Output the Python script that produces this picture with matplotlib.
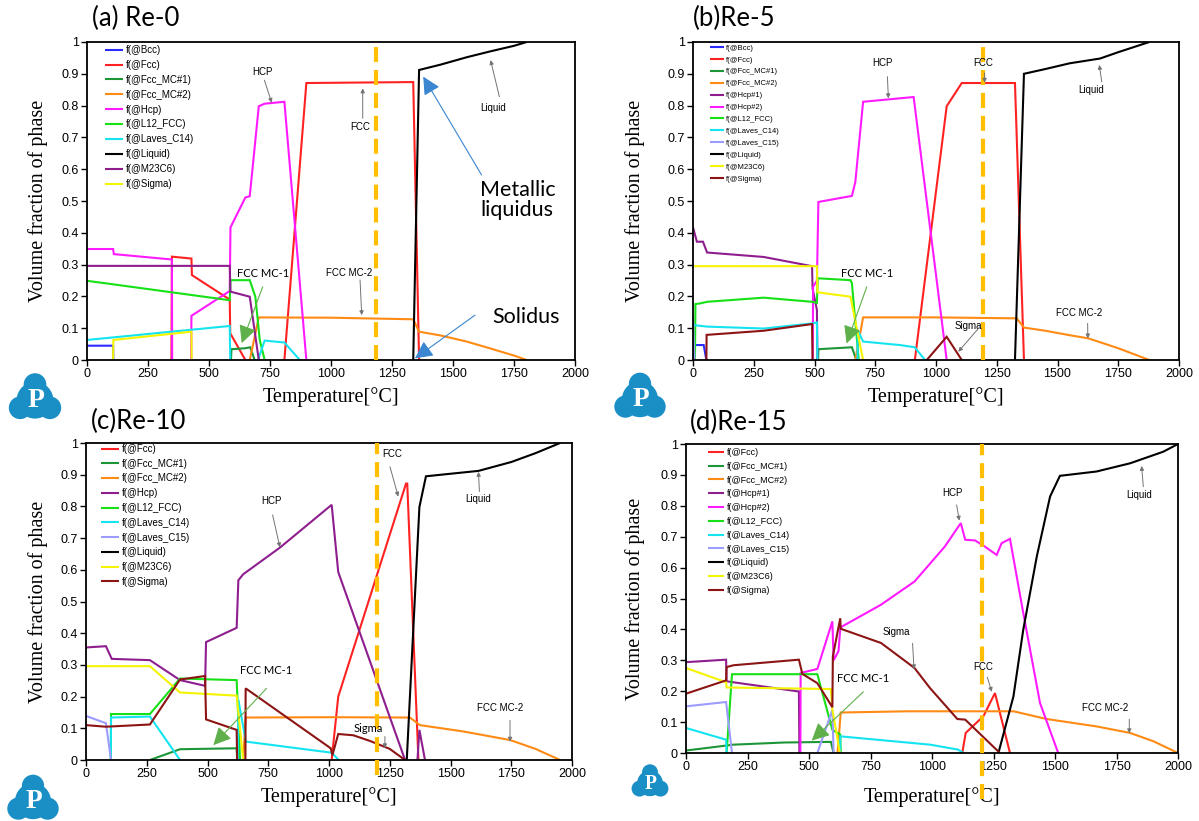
import numpy as np
import matplotlib
matplotlib.use('Agg')
import matplotlib.pyplot as plt
from matplotlib.patches import Circle

plt.rcParams['font.family'] = ['Liberation Sans', 'DejaVu Sans']

W, H = 1199, 821

# ---- phase fractions, (temperature [C], volume fraction) ----
# (a) Re-0
a_bcc = [(0, 0.045), (107, 0.045), (108, 0)]
a_fcc = [(346, 0), (348, 0.325), (428, 0.319), (430, 0.267), (585, 0.19), (587, 0.084), (649, 0),
         (809, 0), (899, 0.871), (1337, 0.874), (1361, 0)]
a_mc1 = [(590, 0), (592, 0.034), (649, 0.037), (669, 0.04), (687, 0)]
a_mc2 = [(667, 0), (704, 0.134), (1000, 0.133), (1337, 0.128), (1361, 0.089), (1450, 0.077),
         (1556, 0.058), (1650, 0.037), (1750, 0.014), (1802, 0)]
a_hcp = [(0, 0.349), (107, 0.349), (110, 0.333), (348, 0.316), (349, 0), (427, 0), (428, 0.139),
         (585, 0.217), (588, 0.417), (649, 0.511), (667, 0.515), (704, 0.798), (728, 0.806),
         (809, 0.812), (899, 0)]
a_l12 = [(0, 0.249), (107, 0.238), (585, 0.188), (588, 0.251), (667, 0.251), (690, 0.199),
         (708, 0.063), (728, 0)]
a_c14 = [(0, 0.063), (585, 0.107), (587, 0), (701, 0), (728, 0.061), (809, 0.055), (872, 0)]
a_liq = [(1337, 0), (1361, 0.912), (1450, 0.929), (1556, 0.952), (1650, 0.97), (1750, 0.988),
         (1802, 1.0)]
a_m23 = [(0, 0.296), (585, 0.296), (588, 0.215), (667, 0.199), (704, 0)]
a_sig = [(107, 0), (108, 0.063), (428, 0.089), (429, 0)]

# (b) Re-5
b_bcc = [(2, 0), (4, 0.047), (44, 0.047), (55, 0)]
b_fcc = [(913, 0), (1044, 0.798), (1106, 0.871), (1325, 0.871), (1362, 0)]
b_mc1 = [(515, 0), (516, 0.034), (654, 0.04), (672, 0)]
b_mc2 = [(668, 0), (700, 0.134), (1000, 0.134), (1332, 0.131), (1362, 0.102), (1450, 0.092),
         (1550, 0.078), (1627, 0.068), (1750, 0.037), (1878, 0)]
b_hcp1 = [(0, 0.417), (16, 0.372), (41, 0.372), (58, 0.338), (291, 0.324), (490, 0.295),
          (492, 0.225), (510, 0.157), (512, 0)]
b_hcp2 = [(493, 0), (494, 0.23), (510, 0.25), (516, 0.497), (654, 0.516), (668, 0.56),
          (700, 0.812), (908, 0.827), (1044, 0)]
b_l12 = [(8, 0), (10, 0.176), (30, 0.178), (58, 0.183), (291, 0.196), (490, 0.183), (510, 0.18),
         (513, 0.257), (648, 0.251), (654, 0.241), (682, 0)]
b_c14 = [(0, 0.110), (58, 0.105), (291, 0.099), (490, 0.115), (510, 0.118), (512, 0), (677, 0),
         (678, 0.094), (700, 0.058), (852, 0.047), (912, 0.04), (955, 0)]
b_c15 = [(0, 0.136), (6, 0)]
b_liq = [(1325, 0), (1362, 0.900), (1450, 0.915), (1550, 0.933), (1675, 0.948), (1750, 0.968),
         (1878, 1.0)]
b_m23 = [(0, 0.295), (510, 0.295), (512, 0.213), (648, 0.199), (700, 0)]
b_sig = [(55, 0), (56, 0.079), (291, 0.092), (490, 0.113), (492, 0), (962, 0), (1044, 0.073),
         (1106, 0)]

# (c) Re-10
c_fcc = [(1011, 0), (1038, 0.2), (1317, 0.872), (1322, 0.872), (1368, 0)]
c_mc1 = [(263, 0), (387, 0.034), (620, 0.037), (622, 0)]
c_mc2 = [(647, 0), (657, 0.134), (1000, 0.135), (1333, 0.134), (1374, 0.11), (1553, 0.09),
         (1745, 0.063), (1850, 0.035), (1951, 0)]
c_hcp = [(0, 0.355), (82, 0.359), (106, 0.319), (263, 0.315), (387, 0.252), (490, 0.234),
         (494, 0.372), (620, 0.417), (627, 0.567), (647, 0.586), (798, 0.67), (1011, 0.805),
         (1038, 0.593), (1313, 0), (1364, 0), (1372, 0.095), (1395, 0)]
c_l12 = [(102, 0), (103, 0.145), (263, 0.145), (387, 0.257), (620, 0.252), (634, 0)]
c_c14 = [(102, 0), (103, 0.134), (263, 0.137), (387, 0), (625, 0), (627, 0.19), (658, 0.058),
         (1011, 0.023), (1040, 0)]
c_c15 = [(0, 0.139), (82, 0.116), (103, 0)]
c_liq = [(1320, 0), (1372, 0.798), (1399, 0.895), (1500, 0.903), (1615, 0.912), (1750, 0.94),
         (1850, 0.968), (1951, 1.0)]
c_m23 = [(0, 0.296), (263, 0.296), (387, 0.213), (620, 0.203), (647, 0)]
c_sig = [(0, 0.110), (82, 0.105), (263, 0.112), (387, 0.254), (490, 0.265), (494, 0.128),
         (620, 0.095), (622, 0), (656, 0), (657, 0.226), (1007, 0.037), (1014, 0.015),
         (1038, 0.082), (1100, 0.078), (1169, 0.06), (1250, 0.035), (1313, 0)]

# (d) Re-15
d_fcc = [(1123, 0), (1137, 0.065), (1209, 0.119), (1256, 0.194), (1317, 0)]
d_mc1 = [(0, 0.008), (193, 0.027), (400, 0.034), (589, 0.036), (600, 0)]
d_mc2 = [(616, 0), (629, 0.131), (900, 0.135), (1331, 0.135), (1466, 0.11), (1669, 0.086),
         (1805, 0.065), (1900, 0.038), (2000, 0)]
d_hcp1 = [(0, 0.294), (163, 0.302), (165, 0.232), (459, 0.199), (461, 0)]
d_hcp2 = [(465, 0), (466, 0.259), (534, 0.272), (595, 0.426), (600, 0.3), (620, 0.33),
          (627, 0.402), (629, 0.407), (793, 0.48), (929, 0.555), (1052, 0.668), (1117, 0.744),
          (1135, 0.69), (1175, 0.688), (1215, 0.668), (1263, 0.641), (1283, 0.679),
          (1317, 0.693), (1371, 0.453), (1439, 0.162), (1513, 0)]
d_l12 = [(165, 0), (187, 0.255), (534, 0.255), (595, 0.075), (627, 0.06), (629, 0)]
d_c14 = [(0, 0.081), (163, 0.043), (165, 0), (626, 0), (627, 0.054), (992, 0.027),
         (1106, 0.011), (1127, 0)]
d_c15 = [(0, 0.151), (163, 0.165), (187, 0), (534, 0), (595, 0.14), (600, 0)]
d_liq = [(1270, 0), (1331, 0.183), (1371, 0.399), (1426, 0.636), (1480, 0.83), (1520, 0.897),
         (1669, 0.911), (1805, 0.9375), (1940, 0.975), (2000, 1.0)]
d_m23 = [(0, 0.275), (163, 0.229), (165, 0.212), (589, 0.207), (595, 0.14), (615, 0.05),
         (625, 0)]
d_sig = [(0, 0.192), (163, 0.235), (165, 0.278), (193, 0.284), (459, 0.302), (473, 0.256),
         (534, 0.226), (595, 0.148), (597, 0.313), (627, 0.436), (629, 0.402), (793, 0.356),
         (929, 0.275), (992, 0.21), (1103, 0.11), (1135, 0.108), (1276, 0)]

x_ticks = [0, 250, 500, 750, 1000, 1250, 1500, 1750, 2000]
y_ticks = [0, 0.1, 0.2, 0.3, 0.4, 0.5, 0.6, 0.7, 0.8, 0.9, 1]
y_ticklabels = ['0', '0.1', '0.2', '0.3', '0.4', '0.5', '0.6', '0.7', '0.8', '0.9', '1']

BLUE = '#2a2aff'
RED = '#ff2222'
DKGREEN = '#1c9636'
ORANGE = '#ff8a14'
PURPLE = '#8e1e8e'
MAGENTA = '#ff1aff'
GREEN = '#16e016'
CYAN = '#14e4f0'
LAVENDER = '#9c9cff'
BLACK = '#000000'
YELLOW = '#f4f400'
DKRED = '#8c1414'
DASH = '#ffbf00'

panel_a = [('f(@Bcc)', a_bcc, BLUE), ('f(@Fcc)', a_fcc, RED), ('f(@Fcc_MC#1)', a_mc1, DKGREEN),
           ('f(@Fcc_MC#2)', a_mc2, ORANGE), ('f(@Hcp)', a_hcp, MAGENTA),
           ('f(@L12_FCC)', a_l12, GREEN), ('f(@Laves_C14)', a_c14, CYAN),
           ('f(@Liquid)', a_liq, BLACK), ('f(@M23C6)', a_m23, PURPLE), ('f(@Sigma)', a_sig, YELLOW)]
panel_b = [('f(@Bcc)', b_bcc, BLUE), ('f(@Fcc)', b_fcc, RED), ('f(@Fcc_MC#1)', b_mc1, DKGREEN),
           ('f(@Fcc_MC#2)', b_mc2, ORANGE), ('f(@Hcp#1)', b_hcp1, PURPLE),
           ('f(@Hcp#2)', b_hcp2, MAGENTA), ('f(@L12_FCC)', b_l12, GREEN),
           ('f(@Laves_C14)', b_c14, CYAN), ('f(@Laves_C15)', b_c15, LAVENDER),
           ('f(@Liquid)', b_liq, BLACK), ('f(@M23C6)', b_m23, YELLOW), ('f(@Sigma)', b_sig, DKRED)]
panel_c = [('f(@Fcc)', c_fcc, RED), ('f(@Fcc_MC#1)', c_mc1, DKGREEN),
           ('f(@Fcc_MC#2)', c_mc2, ORANGE), ('f(@Hcp)', c_hcp, PURPLE),
           ('f(@L12_FCC)', c_l12, GREEN), ('f(@Laves_C14)', c_c14, CYAN),
           ('f(@Laves_C15)', c_c15, LAVENDER), ('f(@Liquid)', c_liq, BLACK),
           ('f(@M23C6)', c_m23, YELLOW), ('f(@Sigma)', c_sig, DKRED)]
panel_d = [('f(@Fcc)', d_fcc, RED), ('f(@Fcc_MC#1)', d_mc1, DKGREEN),
           ('f(@Fcc_MC#2)', d_mc2, ORANGE), ('f(@Hcp#1)', d_hcp1, PURPLE),
           ('f(@Hcp#2)', d_hcp2, MAGENTA), ('f(@L12_FCC)', d_l12, GREEN),
           ('f(@Laves_C14)', d_c14, CYAN), ('f(@Laves_C15)', d_c15, LAVENDER),
           ('f(@Liquid)', d_liq, BLACK), ('f(@M23C6)', d_m23, YELLOW), ('f(@Sigma)', d_sig, DKRED)]


def px_axes(fig, x0, y0, x1, y1):
    return fig.add_axes([x0 / W, 1 - y1 / H, (x1 - x0) / W, (y1 - y0) / H])


def draw_curve(ax, pts, color, label):
    # break the line wherever it would run along the zero baseline
    xs, ys = [], []
    for i, (t, v) in enumerate(pts):
        if i > 0 and v == 0 and pts[i - 1][1] == 0:
            xs.append(np.nan)
            ys.append(np.nan)
        xs.append(t)
        ys.append(v)
    ax.plot(xs, ys, color=color, lw=1.5, label=label, solid_joinstyle='miter',
            solid_capstyle='butt')


def setup(ax, curves, leg_anchor, leg_fs, leg_space, dash_t, dash_low, xlab_y, ylab_x):
    for label, pts, color in curves:
        draw_curve(ax, pts, color, label)
    ax.set_xlim(0, 2000)
    ax.set_ylim(0, 1)
    ax.set_xticks(x_ticks)
    ax.set_yticks(y_ticks)
    ax.set_yticklabels(y_ticklabels)
    ax.tick_params(direction='out', length=4, width=1, labelsize=9, pad=2)
    for s in ax.spines.values():
        s.set_linewidth(1.3)
    ax.plot([dash_t, dash_t], [dash_low, 1], color=DASH, lw=3, dashes=(3.6, 1.9),
            clip_on=False, zorder=3)
    ax.set_xlabel('Temperature[°C]', family='Liberation Serif', fontsize=14.5)
    ax.set_ylabel('Volume fraction of phase', family='Liberation Serif', fontsize=14.5)
    ax.xaxis.set_label_coords(0.5, xlab_y)
    ax.yaxis.set_label_coords(ylab_x, 0.5)
    ax.legend(loc='upper left', bbox_to_anchor=leg_anchor, frameon=False, fontsize=leg_fs,
              handlelength=1.8, handletextpad=0.3, labelspacing=leg_space, borderpad=0,
              borderaxespad=0)


def note(ax, text, pos, tail, head, fs=7, color='0.45', family='Liberation Sans'):
    ax.text(pos[0], pos[1], text, fontsize=fs, ha='center', va='center', family=family)
    ax.annotate('', xy=head, xytext=tail,
                arrowprops=dict(arrowstyle='-|>', color=color, lw=0.7, mutation_scale=6,
                                shrinkA=0, shrinkB=0))


def mc1_note(ax, pos, tail, head):
    ax.text(pos[0], pos[1], 'FCC MC-1', fontsize=8, ha='center', va='center', family='Lato')
    ax.annotate('', xy=head, xytext=tail,
                arrowprops=dict(arrowstyle='-|>,head_length=0.9,head_width=0.45',
                                color='#5fb04a', lw=0.8, mutation_scale=12,
                                shrinkA=0, shrinkB=0))


def logo(fig, cx, cy, w):
    lax = fig.add_axes([(cx - w / 2) / W, 1 - (cy + w / 2) / H, w / W, w / H])
    lax.set_xlim(-1, 1)
    lax.set_ylim(-1, 1)
    lax.axis('off')
    col = '#1a8fc6'
    for x, y, r in [(0, 0.46, 0.42), (-0.55, -0.4, 0.42), (0.55, -0.4, 0.42),
                    (0, -0.12, 0.68)]:
        lax.add_patch(Circle((x, y), r, color=col, lw=0))
    lax.text(0.03, -0.14, 'P', color='white', ha='center', va='center',
             family='Liberation Serif', weight='bold', fontsize=20 * w / 54)


fig = plt.figure(figsize=(W / 100, H / 100), dpi=100)

ax_a = px_axes(fig, 87, 42, 575, 360)
ax_b = px_axes(fig, 693, 42, 1179, 360)
ax_c = px_axes(fig, 86, 443, 572, 760)
ax_d = px_axes(fig, 686, 444, 1178, 753)

setup(ax_a, panel_a, (0.037, 0.99), 7, 0.5, 1186, 0, -0.085, -0.080)
setup(ax_b, panel_b, (0.035, 0.993), 5.5, 0.6, 1192, 0, -0.085, -0.099)
setup(ax_c, panel_c, (0.031, 0.997), 7, 0.49, 1196, -0.047, -0.085, -0.079)
setup(ax_d, panel_d, (0.045, 0.987), 6.5, 0.53, 1205, -0.15, -0.11, -0.083)

# (a) annotations
note(ax_a, 'HCP', (718, 0.906), (727, 0.88), (757, 0.809))
note(ax_a, 'FCC', (1119, 0.734), (1130, 0.76), (1130, 0.854))
note(ax_a, 'FCC MC-2', (1074, 0.273), (1119, 0.252), (1126, 0.141))
note(ax_a, 'Liquid', (1664, 0.792), (1690, 0.828), (1654, 0.943))
mc1_note(ax_a, (720, 0.273), (720, 0.23), (634, 0.053))
ax_a.text(1611, 0.503, 'Metallic\nliquidus', fontsize=15.5, ha='left', va='center',
          family='Lato', linespacing=1.05)
ax_a.text(1659, 0.134, 'Solidus', fontsize=15.5, ha='left', va='center', family='Lato')
for tail, head in [((1617, 0.582), (1378, 0.891)), ((1590, 0.141), (1344, 0.005))]:
    ax_a.annotate('', xy=head, xytext=tail,
                  arrowprops=dict(arrowstyle='-|>,head_length=0.9,head_width=0.45',
                                  color='#3a86d0', lw=0.8, mutation_scale=12,
                                  shrinkA=0, shrinkB=0))

# (b) annotations
note(ax_b, 'HCP', (781, 0.933), (800, 0.891), (804, 0.823))
note(ax_b, 'FCC', (1195, 0.933), (1200, 0.903), (1200, 0.872))
note(ax_b, 'Liquid', (1637, 0.849), (1682, 0.875), (1672, 0.928))
note(ax_b, 'FCC MC-2', (1590, 0.147), (1624, 0.115), (1625, 0.068))
note(ax_b, 'Sigma', (1133, 0.108), (1181, 0.105), (1092, 0.026))
mc1_note(ax_b, (715, 0.272), (715, 0.23), (632, 0.052))

# (c) annotations
note(ax_c, 'HCP', (764, 0.818), (768, 0.773), (798, 0.671))
note(ax_c, 'FCC', (1262, 0.965), (1251, 0.925), (1285, 0.831))
note(ax_c, 'Liquid', (1612, 0.823), (1619, 0.847), (1615, 0.909))
note(ax_c, 'FCC MC-2', (1704, 0.163), (1745, 0.125), (1745, 0.058))
note(ax_c, 'Sigma', (1162, 0.098), (1230, 0.074), (1230, 0.037), fs=8, family='Lato')
mc1_note(ax_c, (741, 0.282), (743, 0.226), (524, 0.047))

# (d) annotations
note(ax_d, 'HCP', (1084, 0.84), (1100, 0.803), (1111, 0.752))
note(ax_d, 'Sigma', (856, 0.393), (921, 0.355), (927, 0.271))
note(ax_d, 'FCC', (1209, 0.277), (1225, 0.245), (1243, 0.198))
note(ax_d, 'Liquid', (1843, 0.835), (1859, 0.862), (1852, 0.929))
note(ax_d, 'FCC MC-2', (1703, 0.145), (1802, 0.109), (1802, 0.064))
mc1_note(ax_d, (718, 0.242), (721, 0.198), (511, 0.04))

# panel titles
for x, y, t in [(92, 18, '(a) Re-0'), (693, 18, '(b)Re-5'), (91, 421, '(c)Re-10'),
                (690, 422, '(d)Re-15')]:
    fig.text(x / W, 1 - y / H, t, fontsize=18.5, family='Lato', ha='left', va='center')

logo(fig, 35, 397, 54)
logo(fig, 640, 396, 53)
logo(fig, 33, 798, 53)
logo(fig, 650, 781, 38)

fig.savefig('out.png', dpi=100)
